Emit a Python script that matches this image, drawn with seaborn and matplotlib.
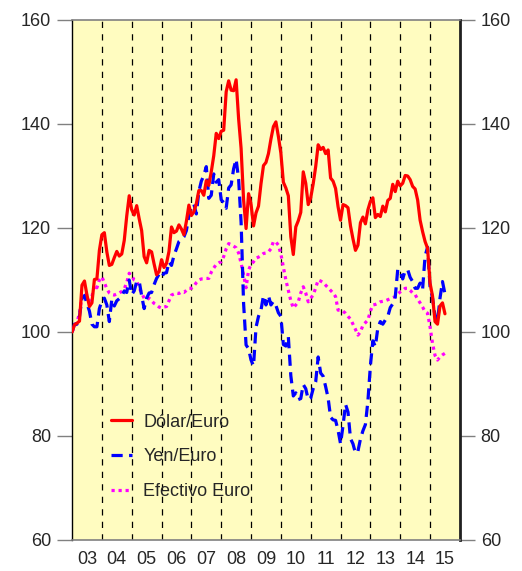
import numpy as np
import pandas as pd
import matplotlib
matplotlib.use("Agg")
import matplotlib.pyplot as plt
import seaborn as sns

# indices mensuales, ene-2003 = 100 (ene-2003 .. jul-2015)
dolar_euro = [
    100.0, 101.4, 101.7, 102.1, 109.0, 109.8, 107.1, 104.9, 105.6, 110.1, 110.2, 115.7,
    118.7, 119.1, 115.4, 112.8, 113.0, 114.3, 115.5, 114.6, 115.0, 117.6, 122.3, 126.2,
    123.5, 122.5, 124.3, 121.8, 119.5, 114.5, 113.3, 115.7, 115.4, 113.1, 111.0, 111.6,
    113.9, 112.4, 113.2, 115.5, 120.2, 119.1, 119.4, 120.6, 119.8, 118.7, 121.3, 124.4,
    122.4, 123.1, 124.7, 127.2, 127.2, 126.3, 129.1, 128.2, 130.8, 133.9, 138.2, 137.2,
    138.6, 138.8, 146.2, 148.3, 146.5, 146.4, 148.5, 141.0, 135.3, 125.4, 119.9, 126.6,
    124.6, 120.4, 122.9, 124.2, 128.5, 132.0, 132.6, 134.3, 137.1, 139.5, 140.4, 137.6,
    134.4, 128.8, 127.7, 126.2, 118.3, 114.9, 120.2, 121.4, 123.0, 130.8, 128.6, 124.5,
    125.8, 128.5, 131.8, 136.0, 135.1, 135.5, 134.3, 135.0, 129.6, 129.0, 127.6, 124.1,
    121.5, 124.5, 124.3, 123.9, 120.4, 117.9, 115.7, 116.7, 121.0, 122.1, 120.8, 123.5,
    125.1, 125.8, 122.0, 122.6, 122.2, 124.2, 123.1, 125.3, 125.7, 128.4, 127.0, 129.0,
    128.1, 128.6, 130.1, 130.0, 129.3, 128.0, 127.5, 125.4, 121.5, 119.3, 117.4, 116.1,
    109.4, 106.9, 102.0, 101.5, 105.0, 105.6, 103.5,
]
yen_euro = [
    100.0, 101.5, 101.5, 103.0, 106.5, 107.0, 105.5, 104.0, 101.5, 101.0, 101.0, 104.5,
    106.0, 106.5, 105.2, 102.0, 106.3, 105.0, 106.0, 106.4, 106.9, 107.9, 107.6, 110.0,
    107.2, 107.9, 109.7, 109.8, 107.0, 104.5, 106.5, 107.5, 107.6, 109.1, 110.3, 111.1,
    110.5, 111.3, 111.4, 113.5, 112.8, 114.7, 116.0, 117.4, 117.8, 118.3, 119.5, 122.4,
    123.8, 124.6, 122.7, 127.0, 129.0, 130.1, 131.8, 125.7, 126.3, 130.4, 128.8, 129.3,
    125.4, 124.9, 123.8, 127.7, 128.3, 131.4, 133.2, 129.4, 121.1, 105.5, 97.5, 96.8,
    94.6, 93.5, 100.9, 103.0, 104.2, 107.0, 105.2, 107.0, 105.2, 105.9, 105.1, 103.7,
    103.0, 97.6, 97.3, 99.1, 91.6, 87.7, 88.3, 87.0, 87.2, 89.9, 89.1, 87.0,
    87.3, 89.1, 90.4, 95.2, 92.1, 91.5, 89.5, 87.3, 83.6, 83.1, 83.0, 81.1,
    78.5, 82.0, 86.1, 84.6, 79.5, 78.5, 76.7, 77.1, 79.4, 81.0, 82.2, 86.7,
    93.5, 98.3, 97.2, 100.8, 102.0, 101.5, 102.3, 103.0, 104.7, 105.4, 106.7, 112.0,
    111.8, 110.2, 111.8, 112.0, 110.5, 109.7, 108.4, 108.4, 109.4, 108.2, 114.6, 116.3,
    108.7, 106.5, 103.1, 101.9, 106.5, 109.7, 107.3,
]
efectivo_euro = [
    100.0, 101.0, 102.0, 103.5, 107.0, 107.5, 107.0, 106.0, 106.8, 109.0, 108.5, 110.0,
    110.6, 109.5, 108.3, 107.5, 107.2, 107.1, 107.3, 107.5, 107.8, 108.3, 109.5, 111.3,
    110.8, 110.0, 109.8, 108.5, 107.5, 106.5, 106.2, 106.5, 106.0, 105.5, 105.2, 104.8,
    104.6, 104.8, 104.9, 106.0, 107.1, 107.3, 107.5, 107.4, 107.7, 107.6, 108.0, 108.4,
    108.4, 108.8, 109.5, 110.0, 110.2, 110.2, 110.3, 110.3, 111.5, 112.3, 113.0, 113.3,
    113.5, 114.5, 116.0, 117.0, 116.8, 116.5, 116.2, 115.2, 113.2, 111.0, 108.5, 111.9,
    113.0, 113.5, 114.2, 114.4, 114.7, 115.1, 115.2, 115.4, 116.0, 117.4, 117.3, 116.7,
    115.0, 112.5, 110.0, 108.0, 106.0, 104.6, 105.2, 105.8, 107.5, 108.7, 107.5, 105.8,
    106.5, 107.1, 108.5, 110.0, 109.8, 109.5, 109.0, 108.5, 108.0, 107.5, 106.8, 104.2,
    104.2, 104.0, 103.6, 103.0, 102.5, 101.5, 100.5, 99.4, 100.0, 101.3, 101.8, 102.3,
    104.0, 105.2, 105.3, 105.5, 105.8, 105.9, 106.0, 106.2, 106.4, 106.6, 106.8, 107.3,
    107.7, 108.0, 108.4, 108.4, 108.0, 107.5, 107.2, 106.3, 105.6, 104.8, 103.9, 103.6,
    101.0, 97.8, 95.5, 94.6, 95.2, 95.6, 95.9,
]
anios = list(range(2003, 2016))
etiquetas_x = ["03", "04", "05", "06", "07", "08", "09", "10", "11", "12", "13", "14", "15"]
ticks_y = [60, 80, 100, 120, 140, 160]

fecha = 2003 + np.arange(len(dolar_euro)) / 12
df = pd.DataFrame({"fecha": fecha, "Dólar/Euro": dolar_euro,
                   "Yen/Euro": yen_euro, "Efectivo Euro": efectivo_euro})

sns.set_style("white")
plt.rcParams["font.family"] = ["Liberation Sans", "DejaVu Sans"]

fig = plt.figure(figsize=(5.22, 5.71), dpi=100)
ax = fig.add_axes([0.138, 0.0543, 0.743, 0.9107])
ax.set_facecolor("#FFFCC0")

# lineas verticales discontinuas en cada cambio de año
for a in anios[1:]:
    ax.axvline(a, color="black", lw=0.9, ls=(0, (5, 5)), zorder=1)

sns.lineplot(data=df, x="fecha", y="Dólar/Euro", color="#FF0000", lw=2.3,
             label="Dólar/Euro", ax=ax, zorder=4)
sns.lineplot(data=df, x="fecha", y="Yen/Euro", color="#0000FF", lw=2.3,
             label="Yen/Euro", ax=ax, zorder=3)
sns.lineplot(data=df, x="fecha", y="Efectivo Euro", color="#FF00FF", lw=2.3,
             label="Efectivo Euro", ax=ax, zorder=2)
ax.lines[-2].set_dashes([3.5, 2])
ax.lines[-1].set_dashes([1, 1.2])

ax.set_xlim(2003, 2016)
ax.set_ylim(60, 160)
ax.set_xlabel("")
ax.set_ylabel("")
ax.set_xticks([a + 0.5 for a in anios])
ax.set_xticklabels(etiquetas_x)
ax.set_yticks(ticks_y)
ax.tick_params(axis="x", length=0, labelsize=13, pad=8)
ax.tick_params(axis="y", length=11, width=1, color="#808080", labelsize=13,
               left=True, right=True, labelleft=True, labelright=True, pad=4)

for lado in ["top", "bottom"]:
    ax.spines[lado].set_color("#808080")
    ax.spines[lado].set_linewidth(1.2)
ax.spines["left"].set_color("black")
ax.spines["left"].set_linewidth(1)
ax.spines["right"].set_color("#202020")
ax.spines["right"].set_linewidth(2)

leg = ax.legend(loc="lower left", bbox_to_anchor=(0.1, 0.077), frameon=False,
                fontsize=13, handlelength=1.2, handletextpad=0.6, labelspacing=0.98,
                borderpad=0, borderaxespad=0)

fig.savefig("out.png", dpi=100)
